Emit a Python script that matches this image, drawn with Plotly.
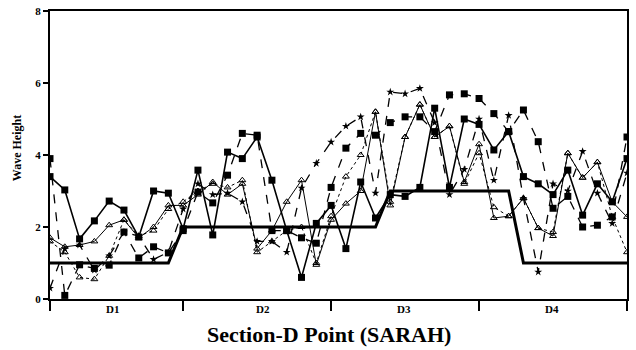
import plotly.graph_objects as go

# x positions are point indices along Section D (0..39)
points = list(range(40))

series_a = [3.4, 3.03, 1.67, 2.17, 2.72, 2.47, 1.72, 3.0, 2.94, 1.95,
            3.58, 1.78, 4.08, 3.9, 4.5, 3.3, 1.9, 0.6, 2.1, 2.6,
            1.4, 3.25, 2.25, 2.9, 2.85, 3.1, 5.3, 3.1, 5.0, 4.85,
            4.14, 4.65, 3.4, 3.2, 2.9, 3.58, 2.33, 3.2, 2.7, 3.9]
series_b = [3.9, 0.1, 0.95, 0.85, 0.94, 1.86, 1.14, 1.45, 1.28, 1.9,
            2.97, 2.67, 3.44, 4.6, 4.55, 1.9, 1.9, 1.7, 1.55, 3.1,
            4.19, 4.6, 4.55, 4.9, 5.06, 5.06, 4.65, 5.67, 5.7, 5.57,
            5.15, 4.65, 5.25, 4.37, 2.52, 2.85, 2.0, 2.05, 2.28, 4.5]
series_c = [1.7, 1.45, 1.5, 1.6, 2.05, 2.2, 1.7, 2.0, 2.6, 2.6,
            2.9, 3.25, 2.9, 3.2, 1.4, 1.9, 2.7, 3.3, 0.95, 2.2,
            2.65, 3.0, 5.2, 2.6, 4.5, 5.4, 4.5, 4.8, 3.25, 4.3,
            2.25, 2.3, 2.8, 1.97, 1.75, 4.05, 3.37, 3.8, 2.7, 2.28]
series_d = [0.3, 1.4, 1.5, 0.8, 1.2, 1.86, 1.75, 1.1, 1.3, 2.5,
            3.2, 2.9, 2.94, 2.7, 1.6, 1.6, 1.3, 3.08, 3.77, 4.36,
            4.8, 5.06, 2.94, 5.75, 5.7, 5.85, 4.9, 2.9, 3.6, 5.0,
            3.3, 5.1, 2.8, 0.75, 3.2, 3.0, 4.1, 2.94, 2.1, 3.5]
series_e = [1.6, 1.3, 0.6, 0.55, 1.2, 2.2, 1.75, 1.9, 2.5, 2.7,
            3.0, 3.2, 3.1, 3.3, 1.3, 1.6, 1.9, 2.0, 1.0, 2.3,
            3.4, 4.0, 5.2, 2.7, 4.5, 5.4, 4.5, 4.8, 3.2, 4.05,
            2.55, 2.3, 2.8, 1.97, 1.86, 4.05, 3.37, 3.8, 2.28, 1.3]
step_x = [0, 8, 9, 22, 23, 31, 32, 39]
step_y = [1, 1, 2, 2, 3, 3, 1, 1]

section_bounds = [0, 9, 19, 29, 39]
section_labels = ["D1", "D2", "D3", "D4"]
section_centers = [4.2, 14.4, 23.9, 33.9]
y_ticks = [0, 2, 4, 6, 8]

FONT = "Liberation Serif"
fig = go.Figure()

fig.add_trace(go.Scatter(x=step_x, y=step_y, mode="lines",
                         line=dict(color="black", width=3), showlegend=False))
fig.add_trace(go.Scatter(x=points, y=series_e, mode="lines+markers",
                         line=dict(color="black", width=1, dash="dot"),
                         marker=dict(symbol="triangle-up-open", size=6, color="black"),
                         showlegend=False))
fig.add_trace(go.Scatter(x=points, y=series_c, mode="lines+markers",
                         line=dict(color="black", width=1),
                         marker=dict(symbol="triangle-up-open", size=6, color="black"),
                         showlegend=False))
fig.add_trace(go.Scatter(x=points, y=series_d, mode="lines+markers",
                         line=dict(color="black", width=1.3, dash="dash"),
                         marker=dict(symbol="star", size=6, color="black"),
                         showlegend=False))
fig.add_trace(go.Scatter(x=points, y=series_b, mode="lines+markers",
                         line=dict(color="black", width=1.3, dash="dash"),
                         marker=dict(symbol="square", size=7, color="black"),
                         showlegend=False))
fig.add_trace(go.Scatter(x=points, y=series_a, mode="lines+markers",
                         line=dict(color="black", width=1.6),
                         marker=dict(symbol="square", size=7, color="black"),
                         showlegend=False))

for lab, cx in zip(section_labels, section_centers):
    fig.add_annotation(x=cx, y=0, xref="x", yref="y", text="<b>" + lab + "</b>",
                       showarrow=False, yshift=-10,
                       font=dict(family=FONT, size=11, color="black"))

fig.add_annotation(x=0.483, y=-0.074, xref="paper", yref="paper", yanchor="top",
                   xanchor="center",
                   text="<b>Section-D Point (SARAH)</b>", showarrow=False,
                   font=dict(family=FONT, size=22, color="black"))
fig.add_annotation(x=-0.057, y=0.524, xref="paper", yref="paper", textangle=-90,
                   xanchor="center", yanchor="middle",
                   text="<b>Wave Height</b>", showarrow=False,
                   font=dict(family=FONT, size=12, color="black"))

fig.update_layout(
    width=636, height=350,
    margin=dict(l=50, r=9, t=11, b=51),
    plot_bgcolor="white", paper_bgcolor="white",
    font=dict(family=FONT, color="black"),
    xaxis=dict(range=[0, 39], tickvals=section_bounds, ticktext=[""] * 5,
               ticks="outside", ticklen=10, tickwidth=2, tickcolor="black",
               showline=True, linecolor="black", linewidth=2, mirror=True,
               showgrid=False, zeroline=False, automargin=False),
    yaxis=dict(range=[0, 8], tickvals=y_ticks,
               ticktext=["<b>%d</b>" % v for v in y_ticks],
               ticks="outside", ticklen=5, tickwidth=2, tickcolor="black",
               tickfont=dict(family=FONT, size=11),
               showline=True, linecolor="black", linewidth=2, mirror=True,
               showgrid=False, zeroline=False, automargin=False),
)

# remove the browser's default 8px page margin so the figure fills the window
fig.write_html("out.html", config={"displayModeBar": False},
               post_script="document.body.style.margin='0';document.body.style.overflow='hidden';")
